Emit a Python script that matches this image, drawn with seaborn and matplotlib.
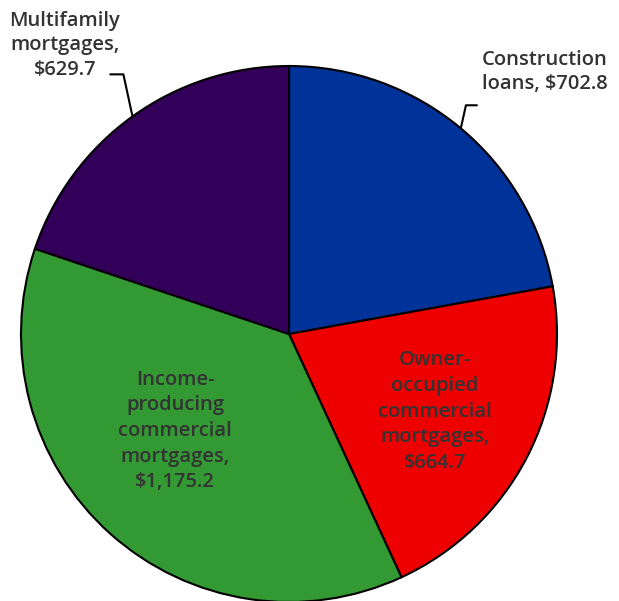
import numpy as np
import matplotlib
matplotlib.use("Agg")
import matplotlib.pyplot as plt
import seaborn as sns

# Commercial real estate loans, $ billions
categories = [
    "Construction\nloans, $702.8",
    "Owner-\noccupied\ncommercial\nmortgages,\n$664.7",
    "Income-\nproducing\ncommercial\nmortgages,\n$1,175.2",
    "Multifamily\nmortgages,\n$629.7",
]
values = [702.8, 664.7, 1175.2, 629.7]
colors = ["#003399", "#EE0000", "#339933", "#330059"]

sns.set_theme(style="white")
plt.rcParams["font.family"] = ["Open Sans", "DejaVu Sans"]
text_color = "#333333"
fs = 14.5

W, H = 619, 601
fig = plt.figure(figsize=(W / 100, H / 100), dpi=100)
cx, cy, r = 289, 334, 268
ax = fig.add_axes([(cx - r) / W, (H - cy - r) / H, 2 * r / W, 2 * r / H])

wedges, _ = ax.pie(
    values,
    colors=colors,
    startangle=90,
    counterclock=False,
    radius=1,
    wedgeprops=dict(edgecolor="black", linewidth=1.5),
)
ax.set_xlim(-1, 1)
ax.set_ylim(-1, 1)
ax.axis("off")

# labels inside slices
inside = {1: (0.545, -0.29), 2: (-0.425, -0.362)}
for i, (x, y) in inside.items():
    ax.text(x, y, categories[i], ha="center", va="center", fontsize=fs,
            color=text_color, linespacing=1.38, fontweight="semibold")

# outside labels with leader lines
outside = {
    0: dict(text=(0.955, 0.978), elbow=(0.019, 0.086), stub=0.041),
    3: dict(text=(-0.836, 1.078), elbow=(-0.034, 0.157), stub=-0.049),
}
for i, o in outside.items():
    w = wedges[i]
    ang = np.deg2rad((w.theta1 + w.theta2) / 2)
    ex, ey = np.cos(ang), np.sin(ang)
    bx, by = ex + o["elbow"][0], ey + o["elbow"][1]
    ax.plot([ex, bx, bx + o["stub"]], [ey, by, by], color="black", lw=1.5,
            clip_on=False)
    ax.text(o["text"][0], o["text"][1], categories[i], ha="center", va="center",
            fontsize=fs, color=text_color, linespacing=1.3, fontweight="semibold")

fig.savefig("out.png", dpi=100)
